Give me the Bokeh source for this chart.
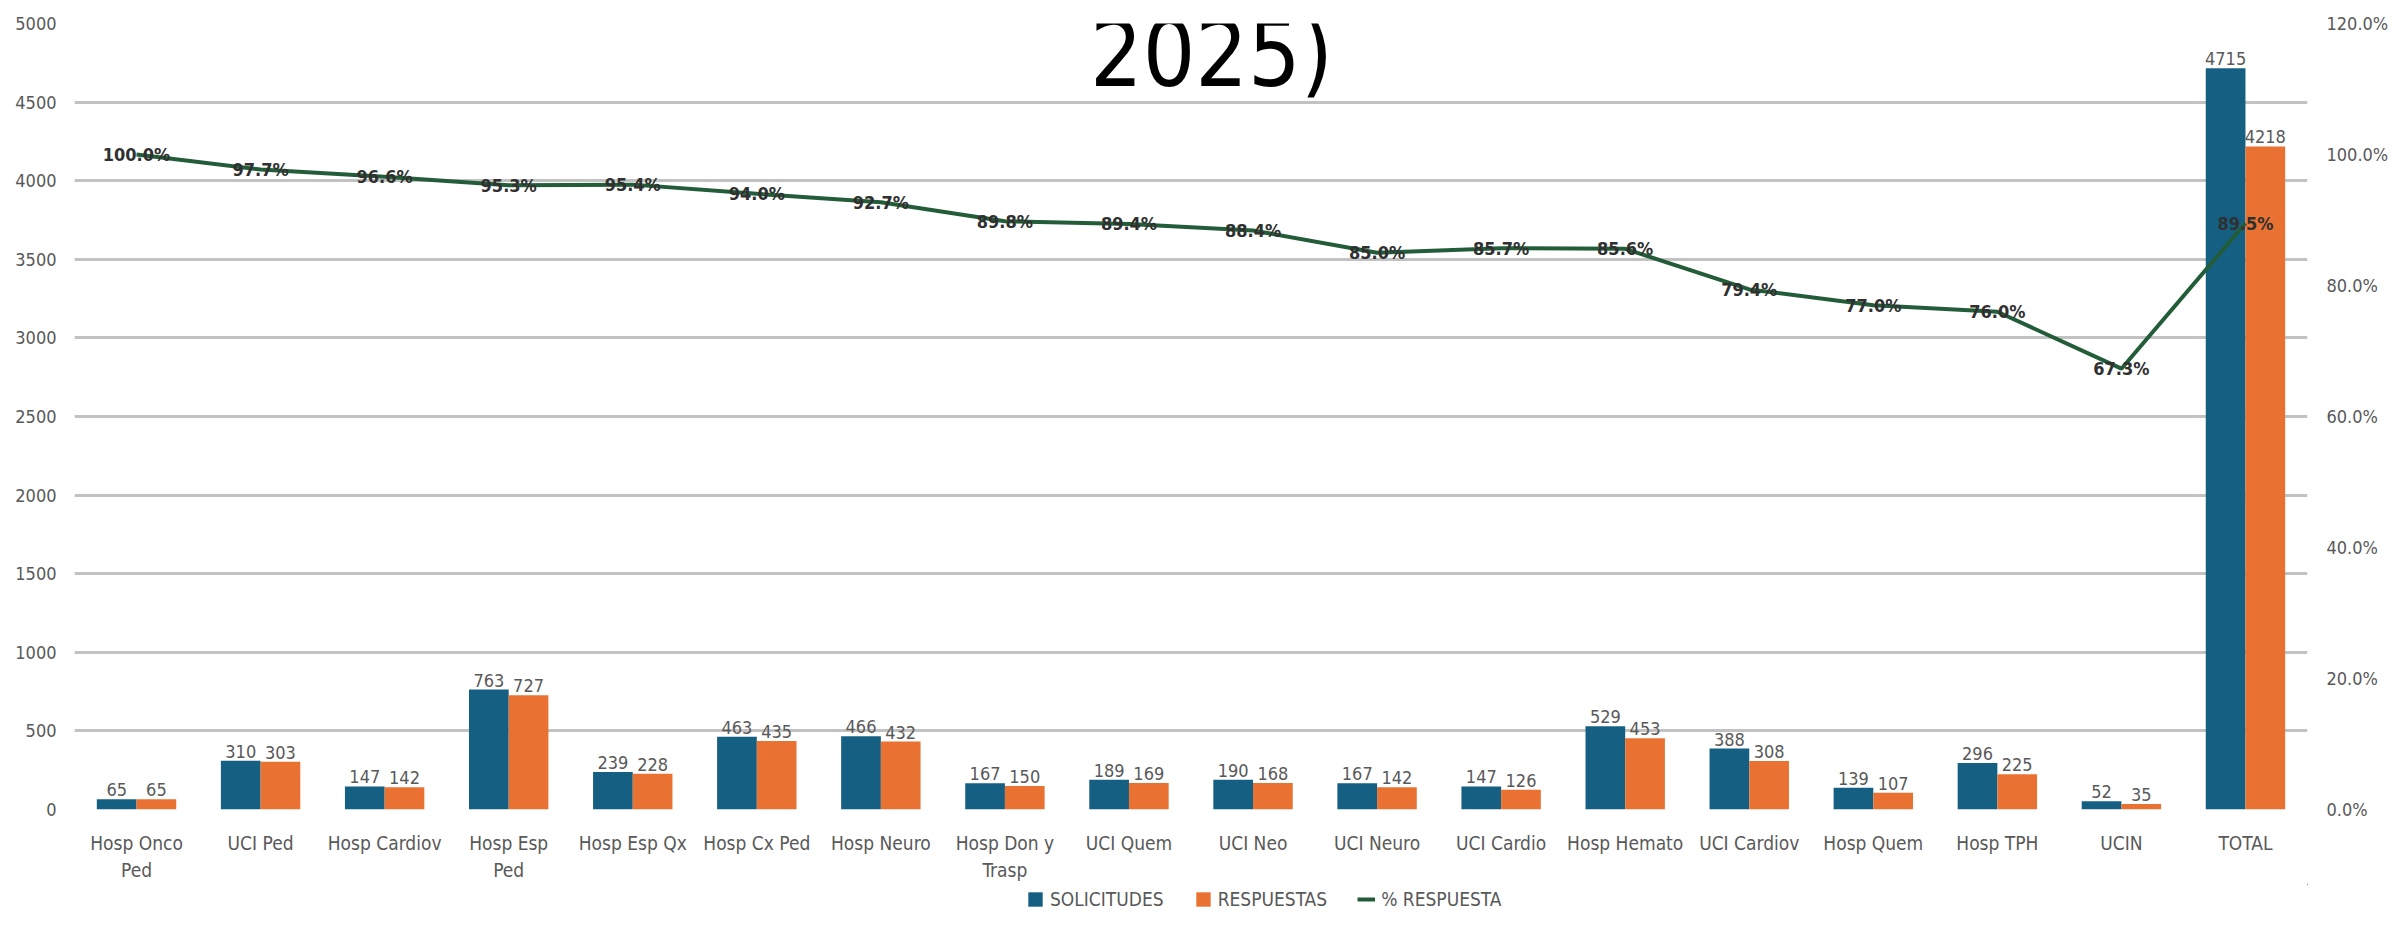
from bokeh.plotting import figure
from bokeh.layouts import column
from bokeh.models import (FactorRange, Range1d, LinearAxis, FixedTicker, PrintfTickFormatter,
                          Legend, LegendItem, Label, ColumnDataSource)
from bokeh.transform import dodge
from bokeh.core.properties import value
from bokeh.embed import file_html
from bokeh.resources import INLINE

categories = ["Hosp Onco\nPed", "UCI Ped", "Hosp Cardiov", "Hosp Esp\nPed", "Hosp Esp Qx",
              "Hosp Cx Ped", "Hosp Neuro", "Hosp Don y\nTrasp", "UCI Quem", "UCI Neo",
              "UCI Neuro", "UCI Cardio", "Hosp Hemato", "UCI Cardiov", "Hosp Quem",
              "Hosp TPH", "UCIN", "TOTAL"]
solicitudes = [65, 310, 147, 763, 239, 463, 466, 167, 189, 190, 167, 147, 529, 388, 139, 296, 52, 4715]
respuestas = [65, 303, 142, 727, 228, 435, 432, 150, 169, 168, 142, 126, 453, 308, 107, 225, 35, 4218]
pct_respuesta = [100.0, 97.7, 96.6, 95.3, 95.4, 94.0, 92.7, 89.8, 89.4, 88.4, 85.0, 85.7, 85.6,
                 79.4, 77.0, 76.0, 67.3, 89.5]
left_ticks = [0, 500, 1000, 1500, 2000, 2500, 3000, 3500, 4000, 4500, 5000]
right_ticks = [0, 20, 40, 60, 80, 100, 120]
series_names = ["SOLICITUDES", "RESPUESTAS", "% RESPUESTA"]
title_text = "2025)"

BLUE = "#156082"
ORANGE = "#E97132"
GREEN = "#235c38"
GRAY = "#595959"
FONT = "DejaVu Sans Condensed"

src = ColumnDataSource(dict(
    cat=categories, sol=solicitudes, res=respuestas, pct=pct_respuesta,
    sol_t=[str(v) for v in solicitudes], res_t=[str(v) for v in respuestas],
    pct_t=["%.1f%%" % v for v in pct_respuesta]))

p = figure(width=2391, height=884, x_range=FactorRange(*categories),
           y_range=Range1d(0, 5000), output_backend="svg", toolbar_location=None,
           min_border_left=74, min_border_right=71, min_border_top=23, min_border_bottom=75)
p.outline_line_color = None
p.background_fill_color = "white"
p.border_fill_color = "white"
p.extra_y_ranges = {"pct": Range1d(0, 120)}

p.xgrid.grid_line_color = None
p.ygrid.grid_line_color = "#c2c2c2"
p.ygrid.grid_line_width = 3
p.yaxis.ticker = FixedTicker(ticks=left_ticks)

for ax in [p.xaxis[0], p.yaxis[0]]:
    ax.axis_line_color = None
    ax.major_tick_line_color = None
    ax.minor_tick_line_color = None
    ax.major_label_text_font = FONT
    ax.major_label_text_color = GRAY
    ax.major_label_text_font_size = "18px"
p.yaxis.major_label_standoff = 12
p.xaxis.major_label_standoff = 16
p.xaxis.major_label_text_font_size = "19px"
p.xaxis.major_label_text_line_height = 1.25

rax = LinearAxis(y_range_name="pct", ticker=FixedTicker(ticks=right_ticks),
                 formatter=PrintfTickFormatter(format="%.1f%%"))
rax.axis_line_color = None
rax.major_tick_line_color = None
rax.minor_tick_line_color = None
rax.major_label_text_font = FONT
rax.major_label_text_color = GRAY
rax.major_label_text_font_size = "18px"
rax.major_label_standoff = 13
p.add_layout(rax, "right")

p.vbar(x=dodge("cat", -0.16, range=p.x_range), top="sol", width=0.32, source=src,
       fill_color=BLUE, line_color=None)
p.vbar(x=dodge("cat", 0.16, range=p.x_range), top="res", width=0.32, source=src,
       fill_color=ORANGE, line_color=None)
p.line(x="cat", y="pct", source=src, y_range_name="pct", line_color=GREEN, line_width=4)

p.text(x=dodge("cat", -0.16, range=p.x_range), y="sol", text="sol_t", source=src,
       text_align="center", text_baseline="bottom", y_offset=-3,
       text_font=value(FONT), text_font_size="18px", text_color=GRAY)
p.text(x=dodge("cat", 0.16, range=p.x_range), y="res", text="res_t", source=src,
       text_align="center", text_baseline="bottom", y_offset=-3,
       text_font=value(FONT), text_font_size="18px", text_color=GRAY)
p.text(x="cat", y="pct", text="pct_t", source=src, y_range_name="pct",
       text_align="center", text_baseline="middle",
       text_font=value(FONT), text_font_size="18px", text_font_style="bold", text_color="#303030")

p.add_layout(Label(x=1137, y=809, x_units="screen", y_units="screen", text=title_text,
                   text_align="center", text_baseline="top", text_font=FONT,
                   text_font_size="92px", text_color="black"))

# legend strip below the chart (its glyphs use the same data, kept outside this strip's ranges)
pl = figure(width=2391, height=28, x_range=Range1d(-2, -1), y_range=Range1d(-2, -1),
            output_backend="svg", toolbar_location=None, min_border=0)
pl.axis.visible = False
pl.grid.grid_line_color = None
pl.outline_line_color = None
pl.background_fill_color = "white"
pl.border_fill_color = "white"
l1 = pl.vbar(x="sol", top="sol", bottom="sol", width=0.1, source=src, fill_color=BLUE, line_color=None)
l2 = pl.vbar(x="res", top="res", bottom="res", width=0.1, source=src, fill_color=ORANGE, line_color=None)
l3 = pl.line(x="sol", y="res", source=src, line_color=GREEN, line_width=4)
legend = Legend(items=[LegendItem(label=series_names[0], renderers=[l1]),
                       LegendItem(label=series_names[1], renderers=[l2]),
                       LegendItem(label=series_names[2], renderers=[l3])],
                orientation="horizontal", location=(952, 2),
                glyph_width=18, glyph_height=18, label_height=18, label_standoff=6, spacing=30,
                padding=0, margin=0, border_line_color=None, background_fill_alpha=0,
                label_text_font=FONT, label_text_font_size="19px", label_text_color=GRAY)
pl.add_layout(legend, "center")

open("out.html", "w").write(file_html(column(p, pl), INLINE))
